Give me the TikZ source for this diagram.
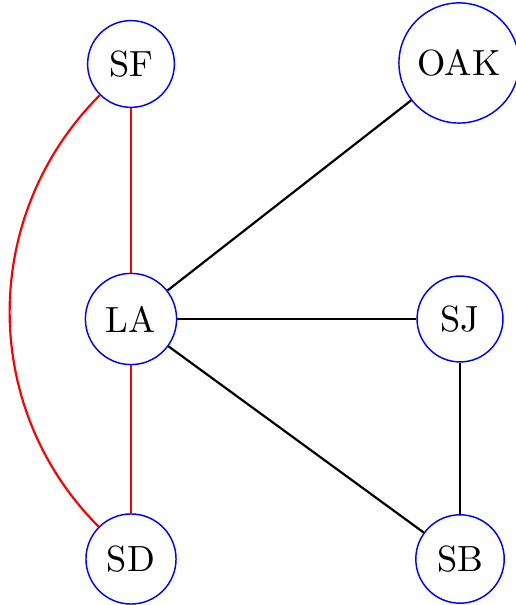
\documentclass[tikz,border=0pt]{standalone}
\begin{document}
\begin{tikzpicture}[x=0.2747pt,y=0.2747pt,
  city/.style={circle,draw=blue,thin,minimum size=23.6pt,inner sep=3.5pt,font=\normalsize},
  redge/.style={draw=red,semithick},
  bedge/.style={draw=black,semithick}]
\useasboundingbox (0,0) rectangle (515,605);
\node[city] (SF)  at (131,541) {SF};
\node[city] (OAK) at (459,542) {OAK};
\node[city] (LA)  at (131,286) {LA};
\node[city] (SJ)  at (460,286) {SJ};
\node[city] (SD)  at (131,46)  {SD};
\node[city] (SB)  at (460,46)  {SB};
\draw[bedge] (LA) -- (OAK);
\draw[bedge] (LA) -- (SJ);
\draw[bedge] (LA) -- (SB);
\draw[bedge] (SJ) -- (SB);
\draw[redge] (SF) -- (LA);
\draw[redge] (LA) -- (SD);
\draw[redge] (SF) to[out=225,in=135] (SD);
\end{tikzpicture}
\end{document}
